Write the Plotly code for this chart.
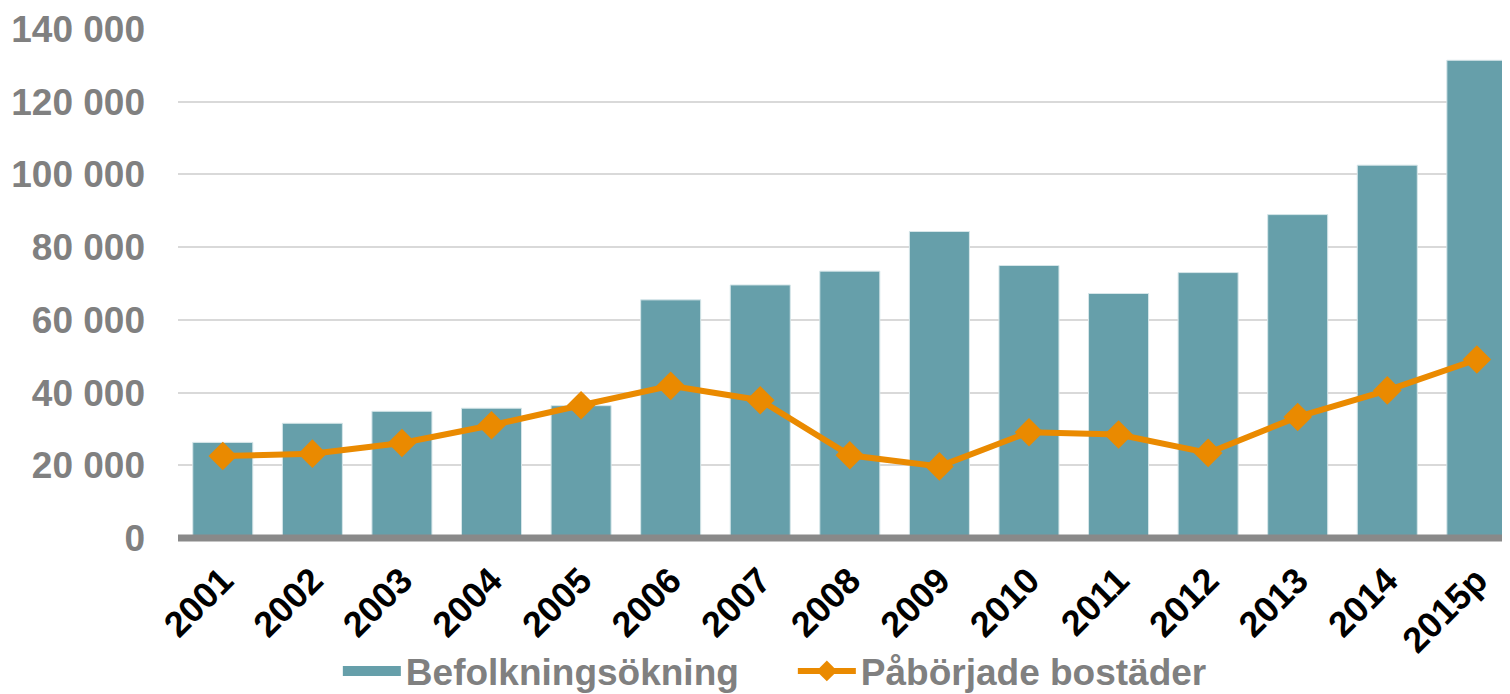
import plotly.graph_objects as go

years = ["2001", "2002", "2003", "2004", "2005", "2006", "2007", "2008",
         "2009", "2010", "2011", "2012", "2013", "2014", "2015p"]
befolkningsokning = [26300, 31550, 34850, 35700, 36400, 65500, 69600, 73400,
                     84300, 74950, 67250, 73000, 88950, 102550, 131400]
paborjade_bostader = [22550, 23200, 26150, 31000, 36500, 41850, 37900, 22750,
                      19700, 29100, 28450, 23400, 33300, 40600, 49100]

y_ticks = [0, 20000, 40000, 60000, 80000, 100000, 120000, 140000]

font_family = "Liberation Sans, Arial, sans-serif"
bar_color = "#669FAA"
line_color = "#EA8A00"

fig = go.Figure()
fig.add_trace(go.Bar(
    x=years, y=befolkningsokning, name="Befolkningsökning",
    marker=dict(color=bar_color, line=dict(color="#d6e6e9", width=1)),
    legendgroup="bef", showlegend=False,
))
# legend entry only: wide block swatch like the original
fig.add_trace(go.Scatter(
    x=[None], y=[None], name="Befolkningsökning", mode="lines",
    line=dict(color=bar_color, width=28), legendgroup="bef",
))
fig.add_trace(go.Scatter(
    x=years, y=paborjade_bostader, name="Påbörjade bostäder",
    mode="lines+markers",
    line=dict(color=line_color, width=6),
    marker=dict(symbol="diamond", size=22, color=line_color),
))

# thick grey baseline at y = 0 (bottom of plot area)
fig.add_shape(type="line", xref="paper", yref="paper", x0=0, x1=1, y0=0, y1=0,
              line=dict(color="#898989", width=7), layer="above")

# page body has an 8px margin, so the figure is 8px smaller than the window
fig.update_layout(
    width=1502, height=686,
    margin=dict(l=170, r=0, t=21, b=156, autoexpand=False),
    plot_bgcolor="white", paper_bgcolor="white",
    separators=", ",
    bargap=0.33,
    font=dict(family=font_family, size=36, color="#808080", weight="bold"),
    showlegend=True,
    legend=dict(
        orientation="h", x=0.12, xanchor="left", y=-0.262, yanchor="middle",
        font=dict(family=font_family, size=37, color="#808080", weight="bold"),
        itemwidth=58, entrywidth=382, traceorder="normal",
    ),
)
fig.update_xaxes(
    range=[-0.5, 14.37], tickangle=-45, showgrid=False, showline=False,
    automargin=False, ticklabelstandoff=13,
    tickfont=dict(family=font_family, size=36, color="black", weight="bold"),
)
fig.update_yaxes(
    range=[0, 140000], tickvals=y_ticks, tickformat=",d",
    showgrid=True, gridcolor="#d9d9d9", gridwidth=2, zeroline=False,
    automargin=False, ticklabelstandoff=32,
    tickfont=dict(family=font_family, size=37, color="#808080", weight="bold"),
)

fig.write_html("out.html")
